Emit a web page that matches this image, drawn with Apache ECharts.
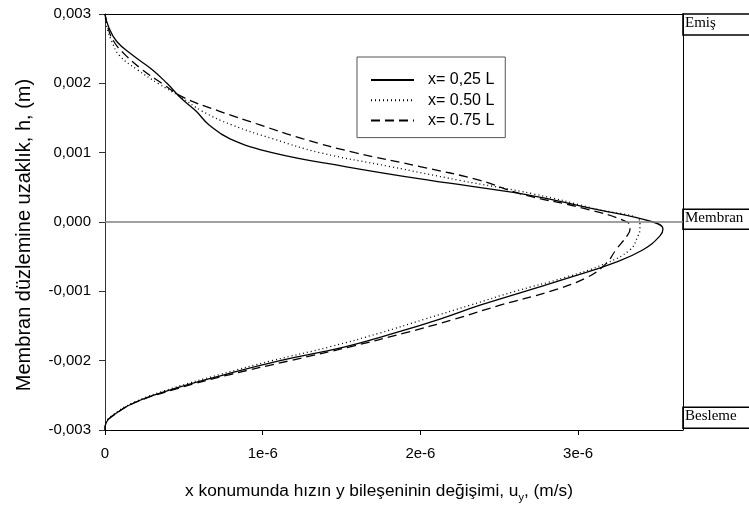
<!DOCTYPE html>
<html>
<head>
<meta charset="utf-8">
<script src="https://cdn.jsdelivr.net/npm/echarts@6/dist/echarts.min.js"></script>
<style>html,body{margin:0;padding:0;background:#fff}#c{width:749px;height:510px}</style>
</head>
<body>
<div id="c"></div>
<script>
// Distance from membrane plane h (m)
const hValues = [0.003, 0.0028, 0.0026, 0.0024, 0.0022, 0.002, 0.0018, 0.0016, 0.0014, 0.0012, 0.001, 0.0008, 0.0006, 0.0004, 0.0002, 0, -0.0001, -0.0002, -0.0004, -0.0006, -0.0008, -0.001, -0.0012, -0.0014, -0.0016, -0.0018, -0.002, -0.0022, -0.0024, -0.0026, -0.0028, -0.0029, -0.003];
// u_y (m/s) at x = 0.25 L, 0.50 L, 0.75 L
const u25 = [0, 0.025e-6, 0.076e-6, 0.178e-6, 0.298e-6, 0.393e-6, 0.476e-6, 0.577e-6, 0.660e-6, 0.793e-6, 1.059e-6, 1.522e-6, 2.061e-6, 2.663e-6, 3.075e-6, 3.475e-6, 3.538e-6, 3.519e-6, 3.412e-6, 3.215e-6, 2.949e-6, 2.663e-6, 2.378e-6, 2.124e-6, 1.839e-6, 1.522e-6, 1.110e-6, 0.761e-6, 0.444e-6, 0.190e-6, 0.044e-6, 0.006e-6, 0];
const u50 = [0, 0.013e-6, 0.044e-6, 0.092e-6, 0.203e-6, 0.336e-6, 0.482e-6, 0.615e-6, 0.805e-6, 1.065e-6, 1.363e-6, 1.807e-6, 2.251e-6, 2.727e-6, 3.088e-6, 3.392e-6, 3.392e-6, 3.380e-6, 3.329e-6, 3.171e-6, 2.917e-6, 2.600e-6, 2.315e-6, 2.029e-6, 1.744e-6, 1.427e-6, 1.059e-6, 0.729e-6, 0.425e-6, 0.184e-6, 0.040e-6, 0.006e-6, 0];
const u75 = [0, 0.019e-6, 0.057e-6, 0.133e-6, 0.235e-6, 0.361e-6, 0.495e-6, 0.723e-6, 0.983e-6, 1.256e-6, 1.585e-6, 1.997e-6, 2.378e-6, 2.644e-6, 3.031e-6, 3.310e-6, 3.329e-6, 3.310e-6, 3.240e-6, 3.177e-6, 3.056e-6, 2.822e-6, 2.505e-6, 2.219e-6, 1.902e-6, 1.554e-6, 1.173e-6, 0.793e-6, 0.463e-6, 0.197e-6, 0.046e-6, 0.006e-6, 0];
const seriesNames = ['x= 0,25 L', 'x= 0.50 L', 'x= 0.75 L'];
const xTicks = [0, 1e-6, 2e-6, 3e-6];
const xTickLabels = ['0', '1e-6', '2e-6', '3e-6'];
const sideLabels = ['Emiş', 'Membran', 'Besleme'];

const pairs = u => u.map((v, i) => [v, hValues[i]]);
const font = 'Liberation Sans, Arial, sans-serif';
const chart = echarts.init(document.getElementById('c'));

function boxAt(py, h, text) {
  return {
    type: 'group',
    children: [
      { type: 'rect', shape: { x: 683, y: py, width: 80, height: h },
        style: { fill: '#fff', stroke: '#000', lineWidth: 1.6 } },
      { type: 'text', x: 685, y: py + h / 2 - 1.5,
        style: { text: text, fill: '#000', verticalAlign: 'middle',
          font: '15px "Liberation Serif", "Times New Roman", serif' } }
    ]
  };
}

chart.setOption({
  animation: false,
  backgroundColor: '#fff',
  grid: { left: 105, top: 14, right: 66, bottom: 80, containLabel: false },
  legend: {
    orient: 'vertical',
    left: 357, top: 57,
    padding: [15, 11, 9, 13],
    borderColor: '#555', borderWidth: 1,
    itemWidth: 43, itemHeight: 16, itemGap: 4.3,
    itemStyle: { opacity: 0 },
    textStyle: { fontFamily: font, fontSize: 16, lineHeight: 16, color: '#000', padding: [0, 0, 0, 9] },
    data: seriesNames
  },
  xAxis: [{
    type: 'value', min: 0, max: 3.665e-6, interval: 1e-6,
    splitLine: { show: false },
    axisLine: { onZero: false, lineStyle: { color: '#000', width: 1 } },
    axisTick: { show: true, length: 5, lineStyle: { color: '#000' }, customValues: xTicks },
    axisLabel: { fontFamily: font, fontSize: 15, color: '#000', margin: 16, customValues: xTicks,
      formatter: v => { const i = xTicks.findIndex(t => Math.abs(t - v) < 1e-9); return i >= 0 ? xTickLabels[i] : ''; } },
    name: '{a|x konumunda hızın y bileşeninin değişimi, u}{s|y}{a|, (m/s)}',
    nameLocation: 'middle', nameGap: 50,
    nameTextStyle: { padding: [0, 30, 0, 0], rich: {
      a: { fontFamily: font, fontSize: 17.3, color: '#000' },
      s: { fontFamily: font, fontSize: 11, color: '#000', verticalAlign: 'bottom', padding: [12, 0, 0, 0] }
    } }
  }, {
    type: 'value', min: 0, max: 3.665e-6, position: 'top',
    axisLine: { show: true, onZero: false, lineStyle: { color: '#000', width: 1 } },
    axisTick: { show: false }, axisLabel: { show: false }, splitLine: { show: false }
  }],
  yAxis: [{
    type: 'value', min: -0.003, max: 0.003, interval: 0.001,
    splitLine: { show: false },
    axisLine: { show: true, onZero: false, lineStyle: { color: '#333', width: 1 } },
    axisTick: { show: true, length: 6, lineStyle: { color: '#333' } },
    axisLabel: { fontFamily: font, fontSize: 15, color: '#000', margin: 14,
      formatter: v => (Math.abs(v) < 1e-9 ? 0 : v).toFixed(3).replace('.', ',') },
    name: 'Membran düzlemine uzaklık, h, (m)',
    nameLocation: 'middle', nameGap: 71,
    nameTextStyle: { fontFamily: font, fontSize: 20, color: '#000', padding: [0, 26, 0, 0] }
  }, {
    type: 'value', min: -0.003, max: 0.003, position: 'right',
    axisLine: { show: true, onZero: false, lineStyle: { color: '#000', width: 1 } },
    axisTick: { show: false }, axisLabel: { show: false }, splitLine: { show: false }
  }],
  series: [
    { name: seriesNames[0], type: 'line', data: pairs(u25), symbol: 'none', smooth: 0.45,
      lineStyle: { color: '#000', width: 1.3, type: 'solid' }, itemStyle: { color: '#000' },
      markLine: { silent: true, symbol: 'none', label: { show: false },
        lineStyle: { color: '#808080', width: 1.5, type: 'solid' }, data: [{ yAxis: 0 }] } },
    { name: seriesNames[1], type: 'line', data: pairs(u50), symbol: 'none', smooth: 0.45,
      lineStyle: { color: '#000', width: 1.3, type: [1, 3] }, itemStyle: { color: '#000' } },
    { name: seriesNames[2], type: 'line', data: pairs(u75), symbol: 'none', smooth: 0.45,
      lineStyle: { color: '#000', width: 1.3, type: [9, 5] }, itemStyle: { color: '#000' } }
  ],
  graphic: [ boxAt(14, 21, sideLabels[0]), boxAt(209.3, 20, sideLabels[1]), boxAt(407.3, 21, sideLabels[2]) ]
});
</script>
</body>
</html>
